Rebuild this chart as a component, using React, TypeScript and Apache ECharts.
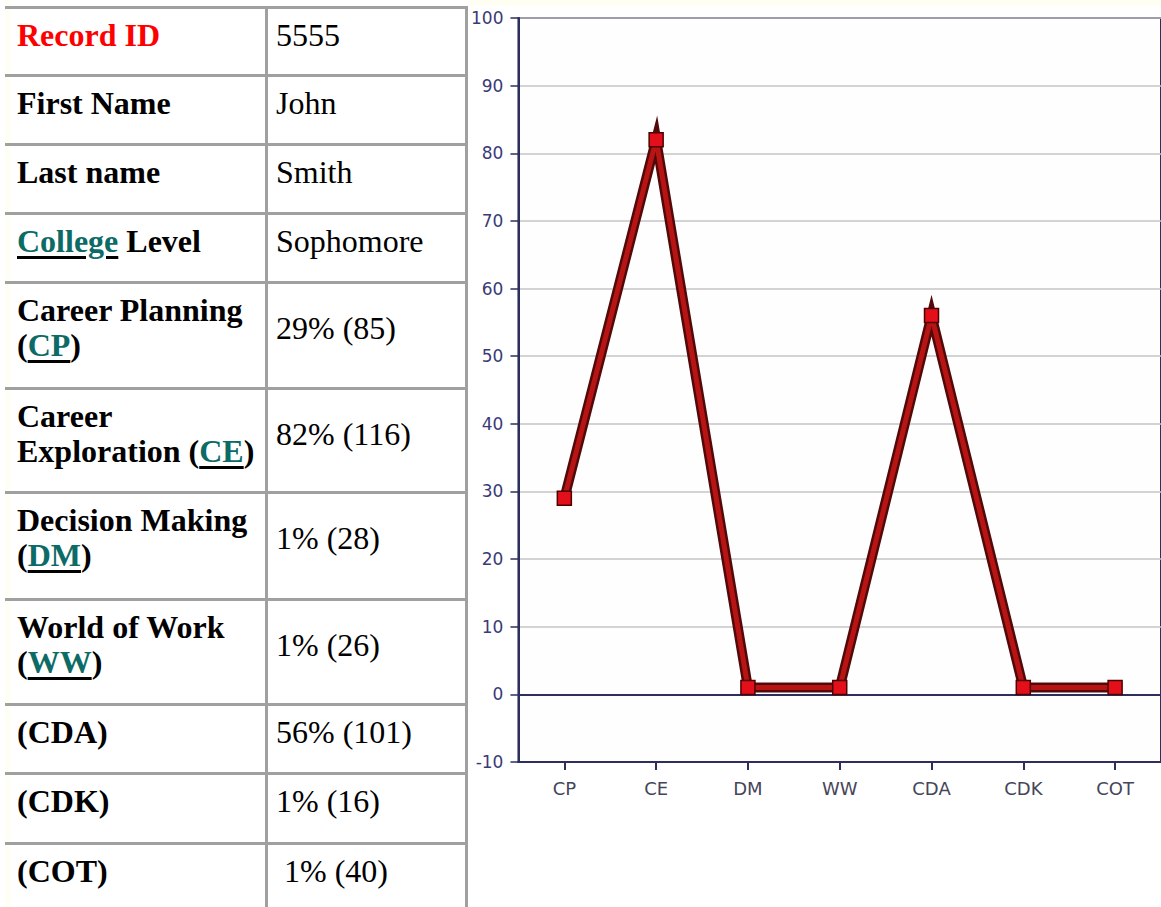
import React, { useEffect, useRef } from 'react';
import * as echarts from 'echarts';

// ---------- data ----------
const categories = ['CP', 'CE', 'DM', 'WW', 'CDA', 'CDK', 'COT'];
const scoreValues = [29, 82, 1, 1, 56, 1, 1];
const yMin = -10;
const yMax = 100;
const yStep = 10;

type Part = { t: string; link?: boolean; red?: boolean };
const rowLabels: Part[][][] = [
  [[{ t: 'Record ID', red: true }]],
  [[{ t: 'First Name' }]],
  [[{ t: 'Last name' }]],
  [[{ t: 'College', link: true }, { t: ' Level' }]],
  [[{ t: 'Career Planning' }], [{ t: '(' }, { t: 'CP', link: true }, { t: ')' }]],
  [[{ t: 'Career' }], [{ t: 'Exploration (' }, { t: 'CE', link: true }, { t: ')' }]],
  [[{ t: 'Decision Making' }], [{ t: '(' }, { t: 'DM', link: true }, { t: ')' }]],
  [[{ t: 'World of Work' }], [{ t: '(' }, { t: 'WW', link: true }, { t: ')' }]],
  [[{ t: '(CDA)' }]],
  [[{ t: '(CDK)' }]],
  [[{ t: '(COT)' }]],
];
const rowValues = ['5555', 'John', 'Smith', 'Sophomore', '29% (85)', '82% (116)', '1% (28)', '1% (26)', '56% (101)', '1% (16)', '\u00a01% (40)'];

// ---------- layout ----------
const borderTops = [6, 74, 143, 212, 281, 387, 491, 598, 703, 772, 842];
const BORDER = '#a0a0a0';
const LINE_H = 35;

function Table() {
  const els: React.ReactNode[] = [];
  borderTops.forEach((y, i) => {
    els.push(<div key={'h' + i} style={{ position: 'absolute', left: 5, top: y, width: 463, height: 3, background: BORDER }} />);
  });
  els.push(<div key="v1" style={{ position: 'absolute', left: 265, top: 6, width: 3, height: 901, background: BORDER }} />);
  els.push(<div key="v2" style={{ position: 'absolute', left: 465, top: 6, width: 3, height: 901, background: BORDER }} />);
  rowLabels.forEach((lines, i) => {
    const top = borderTops[i] + 3 + 9;
    els.push(
      <div key={'l' + i} style={{ position: 'absolute', left: 17, top, fontWeight: 'bold', whiteSpace: 'nowrap' }}>
        {lines.map((line, li) => (
          <div key={li} style={{ height: LINE_H }}>
            {line.map((p, pi) => (
              <span
                key={pi}
                style={
                  p.link
                    ? { color: '#0c6b66', textDecoration: 'underline', textDecorationColor: '#000', textDecorationThickness: '3px', textUnderlineOffset: '4px' }
                    : p.red
                    ? { color: '#ff0000' }
                    : { color: '#000' }
                }
              >
                {p.t}
              </span>
            ))}
          </div>
        ))}
      </div>
    );
    const vTop = top + ((lines.length - 1) * LINE_H) / 2;
    els.push(
      <div key={'v' + i} style={{ position: 'absolute', left: 276, top: vTop, height: LINE_H, whiteSpace: 'pre', color: '#000' }}>
        {rowValues[i]}
      </div>
    );
  });
  return (
    <div style={{ position: 'absolute', left: 0, top: 0, width: 470, height: 907, fontFamily: '"Liberation Serif", "Times New Roman", serif', fontSize: 32, lineHeight: LINE_H + 'px' }}>
      <div style={{ position: 'absolute', left: 5, top: 0, width: 5, height: 907, background: '#fefff2' }} />
      {els}
    </div>
  );
}

function Chart() {
  const ref = useRef<HTMLDivElement>(null);
  useEffect(() => {
    if (!ref.current) return;
    const chart = echarts.init(ref.current, null, { renderer: 'svg' });
    const navy = '#2e2e5e';
    chart.setOption({
      animation: false,
      grid: {
        left: 50,
        top: 18,
        width: 646,
        height: 744,
        show: true,
        backgroundColor: '#fefefe',
        borderColor: navy,
        borderWidth: 2,
      },
      xAxis: {
        type: 'category',
        data: categories,
        boundaryGap: true,
        axisLine: { onZero: false, lineStyle: { color: navy, width: 2 } },
        axisTick: { show: true, alignWithLabel: true, length: 8, lineStyle: { color: navy, width: 2 } },
        axisLabel: { color: '#45455a', fontFamily: 'DejaVu Sans', fontSize: 18, margin: 17 },
        splitLine: { show: false },
      },
      yAxis: {
        type: 'value',
        min: yMin,
        max: yMax,
        interval: yStep,
        axisLine: { show: true, lineStyle: { color: navy, width: 2 } },
        axisTick: { show: true, length: 8, lineStyle: { color: navy, width: 1.5 } },
        axisLabel: { color: '#3a3a78', fontFamily: 'DejaVu Sans', fontSize: 17, margin: 15 },
        splitLine: { show: true, lineStyle: { color: '#c4c4c4', width: 1.5 } },
      },
      series: [
        {
          type: 'line',
          data: scoreValues,
          z: 3,
          symbol: 'none',
          lineStyle: { color: '#520909', width: 10, join: 'miter', miterLimit: 20 },
          markLine: {
            silent: true,
            z: 1,
            symbol: 'none',
            label: { show: false },
            lineStyle: { color: navy, width: 2, type: 'solid' },
            data: [{ yAxis: 0 }],
          },
        },
        {
          type: 'line',
          data: scoreValues,
          z: 4,
          symbol: 'rect',
          symbolSize: 14,
          lineStyle: { color: '#b81414', width: 5, join: 'miter' },
          itemStyle: { color: '#e3101b', borderColor: '#4d0000', borderWidth: 1.5 },
        },
      ],
    });
    return () => chart.dispose();
  }, []);
  return <div ref={ref} style={{ position: 'absolute', left: 468, top: 0, width: 693, height: 907 }} />;
}

export default function App() {
  return (
    <div style={{ position: 'absolute', left: 0, top: 0, width: 1161, height: 907, background: '#fff', overflow: 'hidden' }}>
      <div style={{ position: 'absolute', left: 470, top: 0, width: 691, height: 6, background: '#fefff2' }} />
      <Table />
      <Chart />
    </div>
  );
}
